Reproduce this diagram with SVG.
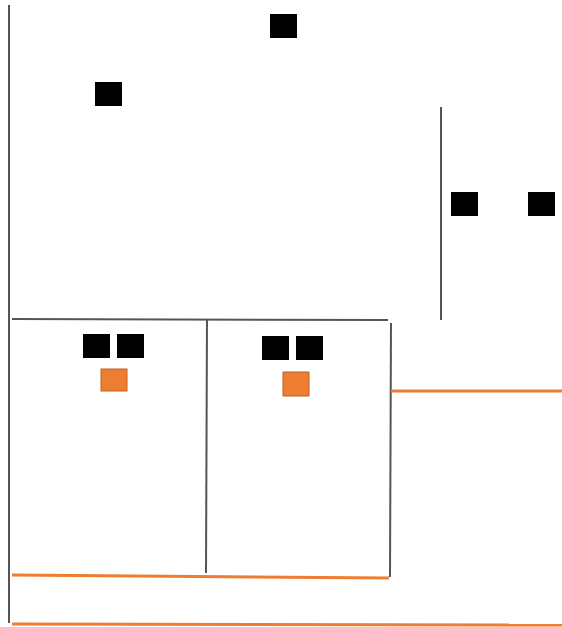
<svg xmlns="http://www.w3.org/2000/svg" width="562" height="627" viewBox="0 0 562 627">
<style>
.ln{stroke:#555;stroke-width:2;fill:none}
.or{stroke:#ED7D31;stroke-width:3;fill:none}
.bk{fill:#000}
.os{fill:#ED7D31;stroke:#C0621F;stroke-width:1}
</style>
<rect width="562" height="627" fill="#fff"/>
<g id="connectors">
<line class="ln" x1="9" y1="5" x2="9" y2="623"/>
<line class="ln" x1="441" y1="107" x2="441" y2="320"/>
<line class="ln" x1="12" y1="319" x2="388" y2="320"/>
<line class="ln" x1="207" y1="320" x2="206" y2="573"/>
<line class="ln" x1="391" y1="323" x2="390" y2="577"/>
<line class="or" x1="391" y1="391" x2="562" y2="391"/>
<line class="or" x1="12" y1="575" x2="389" y2="578"/>
<line class="or" x1="12" y1="624" x2="562" y2="625"/>
</g>
<g id="n1"><rect class="bk" x="270" y="14" width="27" height="24"/></g>
<g id="n2"><rect class="bk" x="95" y="82" width="27" height="24"/></g>
<g id="n3"><rect class="bk" x="451" y="192" width="27" height="24"/></g>
<g id="n4"><rect class="bk" x="528" y="192" width="27" height="24"/></g>
<g id="n5"><rect class="bk" x="83" y="334" width="27" height="24"/></g>
<g id="n6"><rect class="bk" x="117" y="334" width="27" height="24"/></g>
<g id="n7"><rect class="os" x="101" y="369" width="26" height="22"/></g>
<g id="n8"><rect class="bk" x="262" y="336" width="27" height="24"/></g>
<g id="n9"><rect class="bk" x="296" y="336" width="27" height="24"/></g>
<g id="n10"><rect class="os" x="283" y="372" width="26" height="24"/></g>
</svg>
